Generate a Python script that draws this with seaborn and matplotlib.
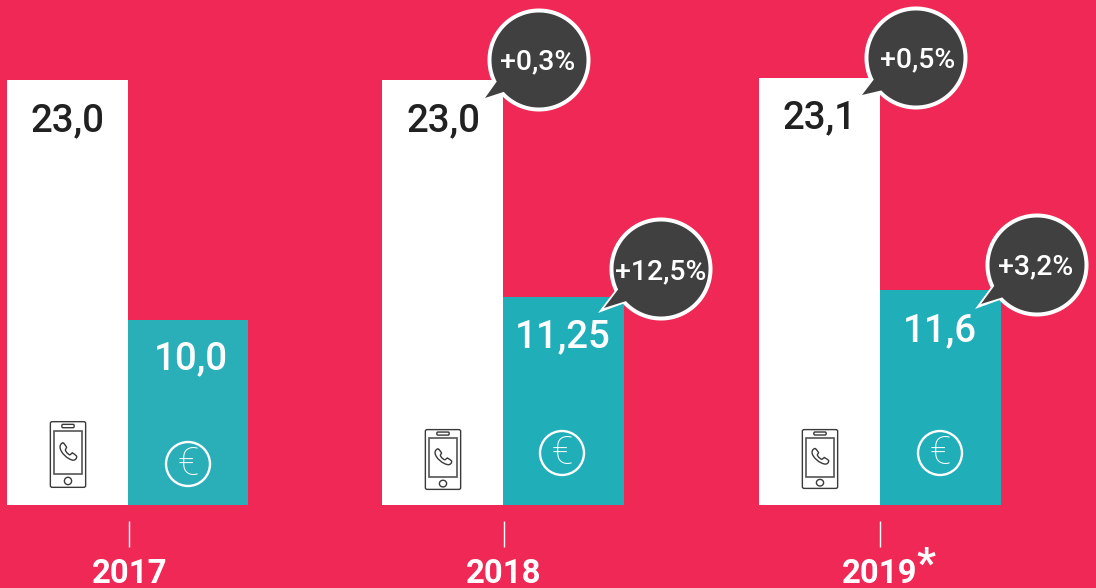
import numpy as np
import pandas as pd
import seaborn as sns
import matplotlib
matplotlib.use("Agg")
import matplotlib.pyplot as plt
from matplotlib.path import Path
from matplotlib.patches import PathPatch, Circle, FancyBboxPatch, Rectangle
from matplotlib.transforms import Affine2D

years = ["2017", "2018", "2019"]
phones = [23.0, 23.0, 23.1]
euros = [10.0, 11.25, 11.63]
phone_labels = ["23,0", "23,0", "23,1"]
euro_labels = ["10,0", "11,25", "11,6"]
phone_changes = [None, "+0,3%", "+0,5%"]
euro_changes = [None, "+12,5%", "+3,2%"]

BG = "#F02855"
TEAL = "#20AEB9"
TEAL_2017 = "#2AAEB8"
DARK = "#404040"
INK = "#212121"
FONT = ["Roboto", "DejaVu Sans"]

W, H = 1096, 588
STEP = 376.2
sns.set_style("white")
plt.rcParams["font.family"] = FONT
fig = plt.figure(figsize=(W / 100, H / 100), dpi=100, facecolor=BG)
BASE = 505
ax = fig.add_axes([0, (H - BASE) / H, 1, BASE / H], facecolor="none")

df = pd.DataFrame({
    "year": years * 2,
    "value": phones + euros,
    "metric": ["phones"] * 3 + ["euros"] * 3,
})
sns.barplot(data=df, x="year", y="value", hue="metric", order=years,
            palette={"phones": "white", "euros": TEAL}, width=241.6 / STEP,
            gap=0, dodge=True, saturation=1, legend=False, ax=ax, linewidth=0)
ax.containers[1][0].set_facecolor(TEAL_2017)
# the middle group sits a pixel left of an even spacing in the original
for c in ax.containers:
    c[1].set_x(c[1].get_x() - 0.8 / STEP)

ax.set_xlim(-127.6 / STEP, (W - 127.6) / STEP)
ax.set_ylim(0, BASE / 18.49)
ax.set_xlabel("")
ax.set_ylabel("")
ax.set_yticks([])
for s in ["top", "left", "right"]:
    ax.spines[s].set_visible(False)
ax.spines["bottom"].set_position(("outward", 16 * 0.72))
ax.spines["bottom"].set_visible(False)
ax.set_xticks([0.005, 1, 2])
ax.set_xticklabels(years)
ax.tick_params(axis="x", length=26 * 0.72, width=1.0, color="white", pad=8,
               labelcolor="white", labelsize=23.8, bottom=True)
for t in ax.get_xticklabels():
    t.set_fontweight("bold")

# overlay coordinates: pixels, origin top-left
px = Affine2D().scale(1, -1).translate(0, H)

# value labels
phone_y = [121, 121, 118]
euro_y = [359, 337, 331]
phone_x = [67, 443, 819.5]
euro_x = [190.5, 563, 940]
for i in range(3):
    ax.text(phone_x[i], phone_y[i], phone_labels[i], transform=px, ha="center", va="center",
            color=INK, fontsize=27.7, fontweight="medium", zorder=6)
    ax.text(euro_x[i], euro_y[i], euro_labels[i], transform=px, ha="center", va="center",
            color="white", fontsize=27.7, fontweight="medium", zorder=6)


def blob(cx, cy, r, tip, b1, b2, color, z):
    a1 = np.degrees(np.arctan2(b1[1] - cy, b1[0] - cx))
    a2 = np.degrees(np.arctan2(b2[1] - cy, b2[0] - cx))
    th = np.radians(np.arange(a1, a1 + 360 - ((a1 - a2) % 360) + 0.5, 1.0))
    verts = [(cx + r * np.cos(t), cy + r * np.sin(t)) for t in th]
    verts = [tip] + verts + [tip]
    ax.add_patch(PathPatch(Path(verts, closed=True), transform=px, facecolor=color,
                           edgecolor="none", linewidth=0, zorder=z, clip_on=False))


def bubble(cx, cy, outer_tip, tip, b1, b2, label, tx, ty):
    blob(cx, cy, 51.5, outer_tip, b1, b2, "white", 7)
    blob(cx, cy, 47.5, tip, b1, b2, DARK, 7.5)
    ax.text(tx, ty, label, transform=px, ha="center", va="center", color="white",
            fontsize=20.4, fontweight="medium", zorder=8)


bubble(539, 60, (485, 98), (485, 98), (496, 82), (503, 93), phone_changes[1], 538, 62)
bubble(661, 269, (598, 313), (604, 308), (617, 290), (625, 302), euro_changes[1], 661, 272)
bubble(916, 58, (862, 95), (862, 95), (873, 80), (881, 91), phone_changes[2], 918, 60)
bubble(1037, 265, (975, 309), (981, 304), (994, 286), (1002, 298), euro_changes[2], 1036, 267)


def phone(x0, y0, w, h):
    tr = Affine2D().scale(w, h).translate(x0, y0) + px
    kw = dict(transform=tr, fill=False, edgecolor="#3a3a3a", linewidth=1.0, zorder=6)
    ax.add_patch(FancyBboxPatch((0.01, 0.01), 0.98, 0.98,
                                boxstyle="round,pad=0,rounding_size=0.05", mutation_aspect=0.55, **kw))
    ax.add_patch(Rectangle((0.1, 0.145), 0.8, 0.65, **{**kw, "linewidth": 1.2, "edgecolor": "#555555"}))
    ax.add_patch(FancyBboxPatch((0.33, 0.05), 0.34, 0.05,
                                boxstyle="round,pad=0,rounding_size=0.03", mutation_aspect=0.55, **kw))
    ax.add_patch(PathPatch(Path.unit_circle().transformed(
        Affine2D().scale(0.1, 0.055).translate(0.5, 0.895)), **kw))
    hs = [(0.37, 0.325),
          (0.40, 0.34), (0.45, 0.38), (0.46, 0.395),
          (0.44, 0.42), (0.41, 0.43), (0.44, 0.45),
          (0.47, 0.48), (0.52, 0.50), (0.55, 0.505),
          (0.58, 0.50), (0.60, 0.48), (0.62, 0.475),
          (0.66, 0.49), (0.72, 0.51), (0.74, 0.525),
          (0.75, 0.56), (0.70, 0.585), (0.65, 0.585),
          (0.50, 0.58), (0.28, 0.47), (0.28, 0.39),
          (0.27, 0.36), (0.33, 0.32), (0.37, 0.325)]
    codes = [Path.MOVETO] + [Path.CURVE4] * 24
    ax.add_patch(PathPatch(Path(hs, codes), **kw))


phone(50, 421, 36, 67)
phone(425, 429, 36, 61)
phone(802, 429, 36, 60)

for (cx, cy) in [(188, 464), (562, 453), (940, 453)]:
    ax.add_patch(Circle((cx, cy), 22, transform=px, fill=False, edgecolor="white",
                        linewidth=1.7, zorder=6, clip_on=False))
    ax.text(cx, cy + 0.5, "€", transform=px, ha="center", va="center", color="white",
            fontsize=28, fontweight="light", zorder=6)

ax.text(926, 565, "*", transform=px, ha="center", va="center", color="white",
        fontsize=30, fontweight="bold", clip_on=False)

fig.savefig("out.png", dpi=100, facecolor=BG)
